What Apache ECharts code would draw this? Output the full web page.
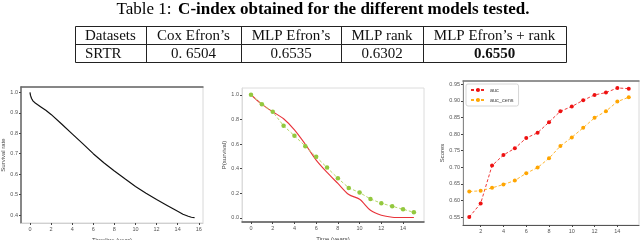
<!DOCTYPE html>
<html><head><meta charset="utf-8">
<script src="https://cdn.jsdelivr.net/npm/echarts@6/dist/echarts.min.js"></script>
<style>html,body{margin:0;padding:0;background:#fff}#c{width:640px;height:240px}</style>
</head><body><div id="c"></div>
<script>
// ---- table ----
const tableTitleLabel = 'Table 1:';
const tableTitleText = 'C-index obtained for the different models tested.';
const tableHeaders = ['Datasets', 'Cox Efron\u2019s', 'MLP Efron\u2019s', 'MLP rank', 'MLP Efron\u2019s + rank'];
const tableRow = ['SRTR', '0. 6504', '0.6535', '0.6302', '0.6550'];
const tableBoldCol = 4;

// ---- chart 1: Kaplan-Meier ----
const kmTime =     [0, 0.05, 0.15, 0.3, 0.5, 1, 1.5, 2, 3, 4, 5, 6, 7, 8, 9, 10, 11, 12, 13, 14, 14.5, 15, 15.3, 15.6];
const kmSurvival = [1.0, 0.985, 0.97, 0.957, 0.948, 0.93, 0.912, 0.892, 0.845, 0.797, 0.749, 0.70, 0.656, 0.615, 0.577, 0.54, 0.507, 0.476, 0.447, 0.418, 0.404, 0.394, 0.389, 0.387];
const kmXTicks = [0, 2, 4, 6, 8, 10, 12, 14, 16];
const kmYTicks = [0.4, 0.5, 0.6, 0.7, 0.8, 0.9, 1.0];

// ---- chart 2: P(survival) ----
const survYears = [0, 1, 2, 3, 4, 5, 6, 7, 8, 9, 10, 11, 12, 13, 14, 15];
const survRed =   [1.0, 0.922, 0.862, 0.805, 0.715, 0.598, 0.47, 0.37, 0.28, 0.19, 0.152, 0.062, 0.022, 0.006, 0.003, 0.003];
const survGreen = [1.0, 0.924, 0.862, 0.748, 0.667, 0.583, 0.496, 0.409, 0.322, 0.244, 0.206, 0.154, 0.119, 0.095, 0.070, 0.046];
const survXTicks = [0, 2, 4, 6, 8, 10, 12, 14];
const survYTicks = [0.0, 0.2, 0.4, 0.6, 0.8, 1.0];

// ---- chart 3: Scores ----
const scoreYears = [1, 2, 3, 4, 5, 6, 7, 8, 9, 10, 11, 12, 13, 14, 15];
const auc =     [0.55, 0.591, 0.705, 0.737, 0.757, 0.788, 0.804, 0.836, 0.869, 0.883, 0.902, 0.918, 0.925, 0.939, 0.937];
const aucCens = [0.627, 0.629, 0.638, 0.648, 0.660, 0.682, 0.699, 0.727, 0.764, 0.790, 0.819, 0.849, 0.869, 0.898, 0.911];
const scoreXTicks = [2, 4, 6, 8, 10, 12, 14];
const scoreYTicks = [0.55, 0.60, 0.65, 0.70, 0.75, 0.80, 0.85, 0.90, 0.95];

const FONT = 'Liberation Sans';
const SERIF = 'Liberation Serif';
const tickLabel = {fontSize: 5.5, color: '#555', fontFamily: FONT, margin: 3};
const nameStyle = {fontSize: 6, color: '#444', fontFamily: FONT};

function xAx(gi, min, max, ticks, name, gap, lineColor, lineW, fmt) {
  return {
    type: 'value', gridIndex: gi, min: min, max: max, position: 'bottom',
    name: name, nameLocation: 'middle', nameGap: gap, nameTextStyle: nameStyle,
    axisLine: {show: true, onZero: false, lineStyle: {color: lineColor, width: lineW}},
    axisTick: {show: true, length: 2, lineStyle: {color: '#444'}, customValues: ticks},
    axisLabel: Object.assign({customValues: ticks, formatter: fmt || (v => String(v))}, tickLabel),
    splitLine: {show: false}
  };
}
function yAx(gi, min, max, ticks, name, gap, lineColor, lineW, fmt) {
  return {
    type: 'value', gridIndex: gi, min: min, max: max,
    name: name, nameLocation: 'middle', nameGap: gap, nameRotate: 90, nameTextStyle: nameStyle,
    axisLine: {show: true, onZero: false, lineStyle: {color: lineColor, width: lineW}},
    axisTick: {show: true, length: 2, lineStyle: {color: '#444'}, customValues: ticks},
    axisLabel: Object.assign({customValues: ticks, formatter: fmt}, tickLabel),
    splitLine: {show: false}
  };
}
function topAx(gi, min, max, color, w) {
  return {type: 'value', gridIndex: gi, min: min, max: max, position: 'top',
    axisLine: {show: true, onZero: false, lineStyle: {color: color, width: w}},
    axisTick: {show: false}, axisLabel: {show: false}, splitLine: {show: false}};
}

// table graphics built from arrays
const tLeft = 75, tRight = 566, tTop = 26, tMid = 44, tBot = 62;
const colEdges = [75, 146, 241, 341, 423, 566];
const graphics = [];
graphics.push({type: 'text', x: 323, y: 10, style: {
  text: '{a|' + tableTitleLabel + '}  {b|' + tableTitleText + '}',
  align: 'center', verticalAlign: 'middle', textAlign: 'center', textVerticalAlign: 'middle',
  rich: {a: {fontFamily: SERIF, fontSize: 17, fill: '#000', color: '#000'},
         b: {fontFamily: SERIF, fontSize: 17, fontWeight: 'bold', fill: '#000', color: '#000'}}
}});
graphics.push({type: 'rect', shape: {x: tLeft + 0.5, y: tTop + 0.5, width: tRight - tLeft, height: tBot - tTop}, style: {fill: 'none', stroke: '#222', lineWidth: 1}});
graphics.push({type: 'line', shape: {x1: tLeft, y1: tMid + 0.5, x2: tRight, y2: tMid + 0.5}, style: {stroke: '#222', lineWidth: 1}});
for (let i = 1; i < colEdges.length - 1; i++) {
  graphics.push({type: 'line', shape: {x1: colEdges[i] + 0.5, y1: tTop, x2: colEdges[i] + 0.5, y2: tBot}, style: {stroke: '#222', lineWidth: 1}});
}
[tableHeaders, tableRow].forEach((row, r) => {
  const cy = r === 0 ? (tTop + tMid) / 2 + 1 : (tMid + tBot) / 2 + 1;
  row.forEach((txt, c) => {
    const left = c === 0;
    const cx = left ? colEdges[0] + 10 : (colEdges[c] + colEdges[c + 1]) / 2;
    graphics.push({type: 'text', x: cx, y: cy, style: {
      text: txt, fontFamily: SERIF, fontSize: 15,
      fontWeight: (r === 1 && c === tableBoldCol) ? 'bold' : 'normal',
      fill: '#111', align: left ? 'left' : 'center', verticalAlign: 'middle',
      textAlign: left ? 'left' : 'center', textVerticalAlign: 'middle'}});
  });
});

const f1 = v => v.toFixed(1);
const f2 = v => v.toFixed(2);

const option = {
  animation: false,
  backgroundColor: '#fff',
  graphic: graphics,
  grid: [
    {left: 21, top: 87, width: 182, height: 136, show: true, borderColor: '#d8d8d8', borderWidth: 1, outerBoundsMode: 'none', containLabel: false},
    {left: 242, top: 88, width: 182, height: 134, show: true, borderColor: '#dcdcdc', borderWidth: 1, outerBoundsMode: 'none', containLabel: false},
    {left: 463, top: 81, width: 176, height: 144, show: true, borderColor: '#d8d8d8', borderWidth: 1, outerBoundsMode: 'none', containLabel: false}
  ],
  legend: {
    data: ['auc', 'auc_cens'], orient: 'vertical', left: 466, top: 84,
    itemWidth: 14, itemHeight: 5, itemGap: 4, padding: [3, 5, 3, 4],
    borderColor: '#ccc', borderWidth: 0.8, borderRadius: 2, backgroundColor: '#fff',
    textStyle: {fontSize: 5.5, color: '#444', fontFamily: FONT}
  },
  xAxis: [
    xAx(0, -0.85, 16.4, kmXTicks, 'Timeline (year)', 9, '#d0d0d0', 1),
    xAx(1, -0.83, 15.93, survXTicks, 'Time (years)', 10, '#555', 1.5),
    xAx(2, 0.45, 15.9, scoreXTicks, 'Time (years)', 8.5, '#555', 1.2),
    topAx(0, -0.85, 16.4, '#666', 1.5),
    topAx(2, 0.45, 15.9, '#777', 1.5)
  ],
  yAxis: [
    yAx(0, 0.361, 1.026, kmYTicks, 'Survival rate', 11, '#666', 1.5, f1),
    yAx(1, -0.033, 1.055, survYTicks, 'P(survival)', 13, '#dcdcdc', 1, f1),
    yAx(2, 0.526, 0.960, scoreYTicks, 'Scores', 17, '#888', 1, f2)
  ],
  series: [
    {type: 'line', xAxisIndex: 0, yAxisIndex: 0, data: kmTime.map((t, i) => [t, kmSurvival[i]]),
     showSymbol: false, lineStyle: {color: '#111', width: 1.2}, smooth: false},
    {type: 'line', name: 'red', xAxisIndex: 1, yAxisIndex: 1, data: survYears.map((t, i) => [t, survRed[i]]),
     showSymbol: false, smooth: 0.3, lineStyle: {color: '#e8333a', width: 1.1}},
    {type: 'line', name: 'green', xAxisIndex: 1, yAxisIndex: 1, data: survYears.map((t, i) => [t, survGreen[i]]),
     symbol: 'circle', symbolSize: 4.5, itemStyle: {color: '#93c83e'},
     lineStyle: {color: '#b5d86a', width: 1, type: [3, 2]}},
    {type: 'line', name: 'auc', xAxisIndex: 2, yAxisIndex: 2, data: scoreYears.map((t, i) => [t, auc[i]]),
     symbol: 'circle', symbolSize: 4, itemStyle: {color: '#ee1111'},
     lineStyle: {color: '#ee2222', width: 0.9, type: [3, 2]}},
    {type: 'line', name: 'auc_cens', xAxisIndex: 2, yAxisIndex: 2, data: scoreYears.map((t, i) => [t, aucCens[i]]),
     symbol: 'circle', symbolSize: 4, itemStyle: {color: '#ffa500'},
     lineStyle: {color: '#ffae1a', width: 0.9, type: [3, 2]}}
  ]
};
const chart = echarts.init(document.getElementById('c'), null, {renderer: 'canvas'});
chart.setOption(option);
</script>
</body></html>
